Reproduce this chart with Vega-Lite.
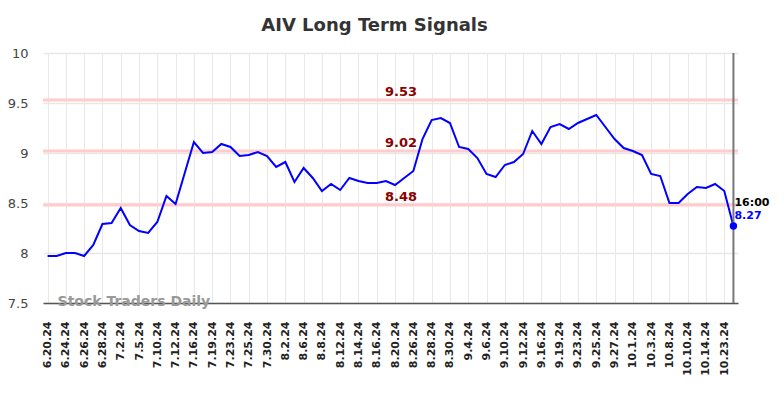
{
  "$schema": "https://vega.github.io/schema/vega-lite/v6.json",
  "width": 695,
  "height": 250,
  "autosize": {"type": "none"},
  "padding": {"left": 43, "top": 53, "right": 46, "bottom": 95},
  "background": "white",
  "title": {
    "text": "AIV Long Term Signals",
    "fontSize": 18,
    "fontWeight": "bold",
    "color": "#333333",
    "font": "DejaVu Sans",
    "anchor": "middle",
    "dx": -16,
    "offset": 12
  },
  "config": {
    "font": "DejaVu Sans",
    "view": {"stroke": null}
  },
  "datasets": {
    "prices": [
      {"date": "6.20.24", "close": 7.97},
      {"date": "6.21.24", "close": 7.97},
      {"date": "6.24.24", "close": 8.0},
      {"date": "6.25.24", "close": 8.0},
      {"date": "6.26.24", "close": 7.97},
      {"date": "6.27.24", "close": 8.08},
      {"date": "6.28.24", "close": 8.29},
      {"date": "7.1.24", "close": 8.3},
      {"date": "7.2.24", "close": 8.45},
      {"date": "7.3.24", "close": 8.28},
      {"date": "7.5.24", "close": 8.22},
      {"date": "7.9.24", "close": 8.2},
      {"date": "7.10.24", "close": 8.31},
      {"date": "7.11.24", "close": 8.57},
      {"date": "7.12.24", "close": 8.49},
      {"date": "7.15.24", "close": 8.8},
      {"date": "7.16.24", "close": 9.11},
      {"date": "7.18.24", "close": 9.0},
      {"date": "7.19.24", "close": 9.01},
      {"date": "7.22.24", "close": 9.09},
      {"date": "7.23.24", "close": 9.06},
      {"date": "7.24.24", "close": 8.97},
      {"date": "7.25.24", "close": 8.98},
      {"date": "7.29.24", "close": 9.01},
      {"date": "7.30.24", "close": 8.97},
      {"date": "8.1.24", "close": 8.86},
      {"date": "8.2.24", "close": 8.91},
      {"date": "8.5.24", "close": 8.71},
      {"date": "8.6.24", "close": 8.85},
      {"date": "8.7.24", "close": 8.75},
      {"date": "8.8.24", "close": 8.62},
      {"date": "8.9.24", "close": 8.69},
      {"date": "8.12.24", "close": 8.63},
      {"date": "8.13.24", "close": 8.75},
      {"date": "8.14.24", "close": 8.72},
      {"date": "8.15.24", "close": 8.7},
      {"date": "8.16.24", "close": 8.7},
      {"date": "8.19.24", "close": 8.72},
      {"date": "8.20.24", "close": 8.68},
      {"date": "8.23.24", "close": 8.75},
      {"date": "8.26.24", "close": 8.82},
      {"date": "8.27.24", "close": 9.14},
      {"date": "8.28.24", "close": 9.33},
      {"date": "8.29.24", "close": 9.35},
      {"date": "8.30.24", "close": 9.3},
      {"date": "9.3.24", "close": 9.06},
      {"date": "9.4.24", "close": 9.04},
      {"date": "9.5.24", "close": 8.95},
      {"date": "9.6.24", "close": 8.79},
      {"date": "9.9.24", "close": 8.76},
      {"date": "9.10.24", "close": 8.88},
      {"date": "9.11.24", "close": 8.91},
      {"date": "9.12.24", "close": 8.99},
      {"date": "9.13.24", "close": 9.22},
      {"date": "9.16.24", "close": 9.09},
      {"date": "9.18.24", "close": 9.26},
      {"date": "9.19.24", "close": 9.29},
      {"date": "9.20.24", "close": 9.24},
      {"date": "9.23.24", "close": 9.3},
      {"date": "9.24.24", "close": 9.34},
      {"date": "9.25.24", "close": 9.38},
      {"date": "9.26.24", "close": 9.26},
      {"date": "9.27.24", "close": 9.14},
      {"date": "9.30.24", "close": 9.05},
      {"date": "10.1.24", "close": 9.02},
      {"date": "10.2.24", "close": 8.98},
      {"date": "10.3.24", "close": 8.79},
      {"date": "10.7.24", "close": 8.77},
      {"date": "10.8.24", "close": 8.5},
      {"date": "10.9.24", "close": 8.5},
      {"date": "10.10.24", "close": 8.59},
      {"date": "10.11.24", "close": 8.66},
      {"date": "10.14.24", "close": 8.65},
      {"date": "10.22.24", "close": 8.69},
      {"date": "10.23.24", "close": 8.62},
      {"date": "10.24.24", "close": 8.27}
    ],
    "levels": [
      {"level": 9.53, "label": "9.53", "date": "8.20.24"},
      {"level": 9.02, "label": "9.02", "date": "8.20.24"},
      {"level": 8.48, "label": "8.48", "date": "8.20.24"}
    ],
    "last": [
      {"date": "10.24.24", "close": 8.27, "time": "16:00", "price": "8.27"}
    ],
    "mark": [
      {"date": "6.20.24", "close": 7.5, "text": "Stock Traders Daily"}
    ]
  },
  "layer": [
    {
      "data": {"name": "prices"},
      "mark": {"type": "line", "color": "#0000ff", "strokeWidth": 2, "strokeOpacity": 0},
      "encoding": {
        "x": {
          "field": "date",
          "type": "ordinal",
          "sort": null,
          "scale": {"type": "point", "padding": 0.5},
          "axis": {
            "title": null,
            "values": ["6.20.24","6.24.24","6.26.24","6.28.24","7.2.24","7.5.24","7.10.24","7.12.24","7.16.24","7.19.24","7.23.24","7.25.24","7.30.24","8.2.24","8.6.24","8.8.24","8.12.24","8.14.24","8.16.24","8.20.24","8.26.24","8.28.24","8.30.24","9.4.24","9.6.24","9.10.24","9.12.24","9.16.24","9.19.24","9.23.24","9.25.24","9.27.24","10.1.24","10.3.24","10.8.24","10.10.24","10.14.24","10.23.24"],
            "labelAngle": -90,
            "labelFontSize": 11,
            "labelFontWeight": "bold",
            "labelColor": "#222222",
            "labelPadding": 18,
            "ticks": false,
            "domain": true,
            "domainColor": "#555555",
            "domainWidth": 1.5,
            "grid": true,
            "gridColor": "#e8e8e8",
            "gridWidth": 1
          }
        },
        "y": {
          "field": "close",
          "type": "quantitative",
          "scale": {"domain": [7.5, 10], "zero": false, "nice": false},
          "axis": {
            "title": null,
            "values": [7.5, 8, 8.5, 9, 9.5, 10],
            "format": "~g",
            "labelFontSize": 13,
            "labelColor": "#444444",
            "labelPadding": 15,
            "ticks": false,
            "domain": false,
            "grid": true,
            "gridColor": "#e8e8e8",
            "gridWidth": 1.5
          }
        }
      }
    },
    {
      "data": {"name": "levels"},
      "mark": {"type": "rule", "color": "#ffcccc", "strokeWidth": 3},
      "encoding": {
        "y": {"field": "level", "type": "quantitative"}
      }
    },
    {
      "data": {"name": "levels"},
      "mark": {"type": "text", "color": "#8b0000", "fontWeight": "bold", "fontSize": 13, "align": "center", "baseline": "alphabetic", "dx": 6, "dy": -4},
      "encoding": {
        "x": {"field": "date", "type": "ordinal", "sort": null},
        "y": {"field": "level", "type": "quantitative"},
        "text": {"field": "label"}
      }
    },
    {
      "data": {"name": "prices"},
      "mark": {"type": "line", "color": "#0000ff", "strokeWidth": 2},
      "encoding": {
        "x": {"field": "date", "type": "ordinal", "sort": null},
        "y": {"field": "close", "type": "quantitative"}
      }
    },
    {
      "data": {"name": "last"},
      "mark": {"type": "rule", "color": "#777777", "strokeWidth": 2},
      "encoding": {
        "x": {"field": "date", "type": "ordinal", "sort": null}
      }
    },
    {
      "data": {"name": "last"},
      "mark": {"type": "point", "filled": true, "color": "#0000ff", "size": 55, "opacity": 1},
      "encoding": {
        "x": {"field": "date", "type": "ordinal", "sort": null},
        "y": {"field": "close", "type": "quantitative"}
      }
    },
    {
      "data": {"name": "last"},
      "mark": {"type": "text", "color": "#000000", "fontWeight": "bold", "fontSize": 11, "align": "left", "baseline": "alphabetic", "dx": 1, "dy": -20},
      "encoding": {
        "x": {"field": "date", "type": "ordinal", "sort": null},
        "y": {"field": "close", "type": "quantitative"},
        "text": {"field": "time"}
      }
    },
    {
      "data": {"name": "last"},
      "mark": {"type": "text", "color": "#0000ff", "fontWeight": "bold", "fontSize": 11, "align": "left", "baseline": "alphabetic", "dx": 1, "dy": -7},
      "encoding": {
        "x": {"field": "date", "type": "ordinal", "sort": null},
        "y": {"field": "close", "type": "quantitative"},
        "text": {"field": "price"}
      }
    },
    {
      "data": {"name": "mark"},
      "mark": {"type": "text", "color": "#999999", "fontWeight": "bold", "fontSize": 14, "align": "left", "baseline": "alphabetic", "dx": 10, "dy": 3},
      "encoding": {
        "x": {"field": "date", "type": "ordinal", "sort": null},
        "y": {"field": "close", "type": "quantitative"},
        "text": {"field": "text"}
      }
    }
  ]
}
